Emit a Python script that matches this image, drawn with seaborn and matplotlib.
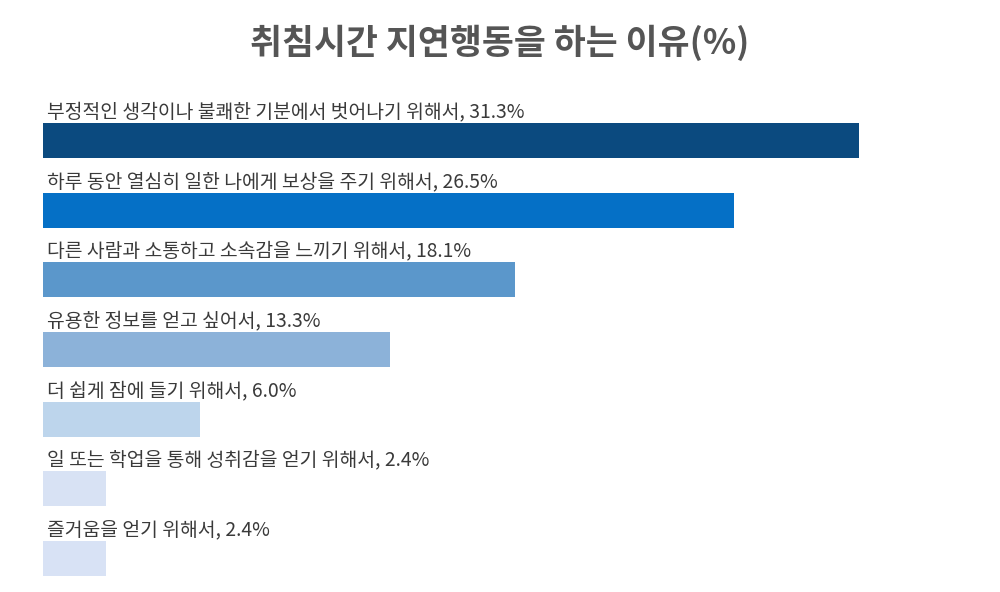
import matplotlib
matplotlib.use("Agg")
import matplotlib.pyplot as plt
import seaborn as sns
import pandas as pd

# chart data
reasons = [
    "부정적인 생각이나 불쾌한 기분에서 벗어나기 위해서",
    "하루 동안 열심히 일한 나에게 보상을 주기 위해서",
    "다른 사람과 소통하고 소속감을 느끼기 위해서",
    "유용한 정보를 얻고 싶어서",
    "더 쉽게 잠에 들기 위해서",
    "일 또는 학업을 통해 성취감을 얻기 위해서",
    "즐거움을 얻기 위해서",
]
percents = [31.3, 26.5, 18.1, 13.3, 6.0, 2.4, 2.4]
bar_colors = ["#0b4a7f", "#0570c6", "#5b97cb", "#8cb2d9", "#bdd5ec", "#d8e2f4", "#d8e2f5"]
title = "취침시간 지연행동을 하는 이유(%)"

sns.set_theme(style="white")
plt.rcParams["font.family"] = ["Noto Sans CJK KR", "DejaVu Sans"]

df = pd.DataFrame({"reason": reasons, "pct": percents})

fig = plt.figure(figsize=(10, 5.92), dpi=100)
ax = fig.add_axes([0.043, 0.0037, 0.939, 0.865])

sns.barplot(data=df, x="pct", y="reason", hue="reason", palette=bar_colors,
            legend=False, width=0.5, saturation=1, linewidth=0, ax=ax)

# label above each bar
for i, (r, p) in enumerate(zip(reasons, percents)):
    ax.text(0.15, i - 0.33, f"{r}, {p:.1f}%", ha="left", va="baseline",
            fontsize=13.9, color="#3a3a3a")

ax.set_xlim(0, 36)
ax.set_ylim(6.45, -0.9)
ax.set_xlabel("")
ax.set_ylabel("")
ax.set_xticks([])
ax.set_yticks([])
sns.despine(ax=ax, left=True, bottom=True)

fig.text(0.5, 1 - 43 / 592, title, ha="center", va="center",
         fontsize=25, fontweight="bold", color="#555555")

fig.savefig("out.png", dpi=100, facecolor="white")
